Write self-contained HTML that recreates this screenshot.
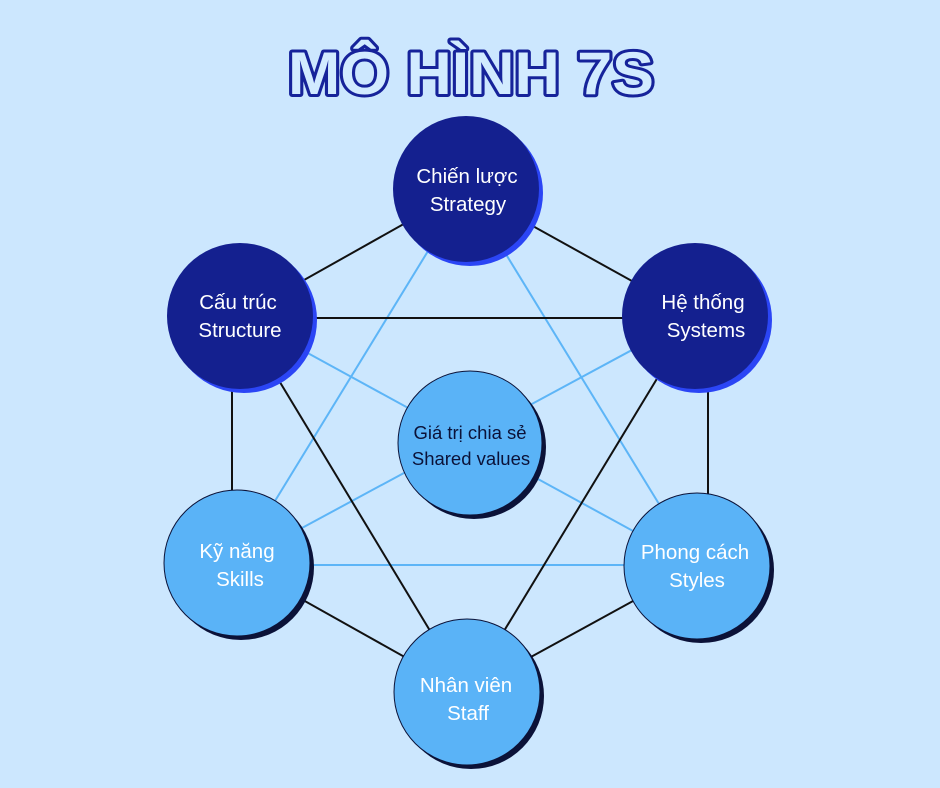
<!DOCTYPE html>
<html><head><meta charset="utf-8"><style>
html,body{margin:0;padding:0;background:#cce7fe;}
svg{display:block}
</style></head><body>
<svg width="940" height="788" viewBox="0 0 940 788" xmlns="http://www.w3.org/2000/svg">
<rect width="940" height="788" fill="#cce7fe"/>
<text x="471" y="94" text-anchor="middle" font-family="Liberation Sans, sans-serif" font-weight="900" font-size="60" textLength="366" lengthAdjust="spacingAndGlyphs" fill="#d2ebff" stroke="#16239a" stroke-width="6" stroke-linejoin="round" paint-order="stroke">MÔ HÌNH 7S</text>
<g stroke="#5db5f7" stroke-width="2" fill="none">
<line x1="466" y1="189" x2="237" y2="563"/>
<line x1="466" y1="189" x2="697" y2="566"/>
<line x1="240" y1="316" x2="697" y2="566"/>
<line x1="695" y1="316" x2="237" y2="563"/>
<line x1="237" y1="565" x2="697" y2="565"/>
</g>
<g stroke="#111" stroke-width="2" fill="none">
<line x1="466" y1="189" x2="240" y2="316"/>
<line x1="466" y1="189" x2="695" y2="316"/>
<line x1="240" y1="318" x2="695" y2="318"/>
<line x1="232" y1="316" x2="232" y2="563"/>
<line x1="708" y1="316" x2="708" y2="566"/>
<line x1="237" y1="563" x2="467" y2="692"/>
<line x1="697" y1="566" x2="467" y2="692"/>
<line x1="240" y1="316" x2="467" y2="692"/>
<line x1="695" y1="316" x2="467" y2="692"/>
</g>
<g font-family="Liberation Sans, sans-serif" font-size="20.5" text-anchor="middle" fill="#fff">
<circle cx="470" cy="193" r="73" fill="#2b45f5"/><circle cx="466" cy="189" r="73" fill="#14208f"/>
<text x="467" y="183">Chiến lược</text><text x="468" y="211">Strategy</text>
<circle cx="244" cy="320" r="73" fill="#2b45f5"/><circle cx="240" cy="316" r="73" fill="#14208f"/>
<text x="238" y="309">Cấu trúc</text><text x="240" y="337">Structure</text>
<circle cx="699" cy="320" r="73" fill="#2b45f5"/><circle cx="695" cy="316" r="73" fill="#14208f"/>
<text x="703" y="309">Hệ thống</text><text x="706" y="337">Systems</text>
<circle cx="474" cy="447" r="72" fill="#0b1238"/><circle cx="470" cy="443" r="72" fill="#5ab3f7" stroke="#0b1238" stroke-width="1"/>
<text x="470" y="439" fill="#0b1238" font-size="18.5">Giá trị chia sẻ</text><text x="471" y="465" fill="#0b1238" font-size="18.5">Shared values</text>
<circle cx="241" cy="567" r="73" fill="#0b1238"/><circle cx="237" cy="563" r="73" fill="#5ab3f7" stroke="#0b1238" stroke-width="1"/>
<text x="237" y="558">Kỹ năng</text><text x="240" y="586">Skills</text>
<circle cx="701" cy="570" r="73" fill="#0b1238"/><circle cx="697" cy="566" r="73" fill="#5ab3f7" stroke="#0b1238" stroke-width="1"/>
<text x="695" y="559">Phong cách</text><text x="697" y="587">Styles</text>
<circle cx="471" cy="696" r="73" fill="#0b1238"/><circle cx="467" cy="692" r="73" fill="#5ab3f7" stroke="#0b1238" stroke-width="1"/>
<text x="466" y="692">Nhân viên</text><text x="468" y="720">Staff</text>
</g>
</svg>
</body></html>
